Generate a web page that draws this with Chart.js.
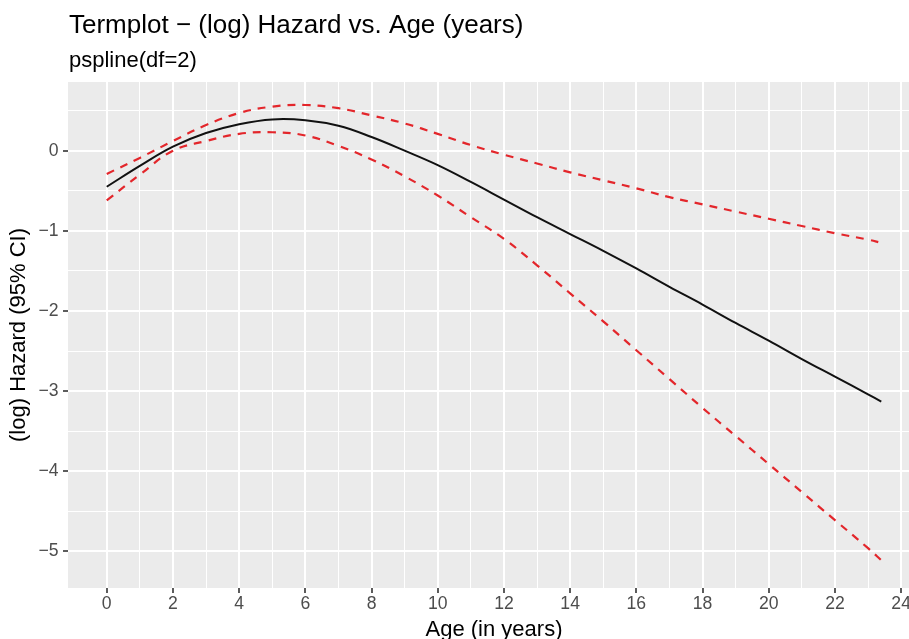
<!DOCTYPE html>
<html>
<head>
<meta charset="utf-8">
<title>Termplot - (log) Hazard vs. Age</title>
<script src="https://cdn.jsdelivr.net/npm/chart.js@4"></script>
<style>
    html, body { margin: 0; padding: 0; background: #ffffff; overflow: hidden; }
    #wrap { width: 940px; height: 650px; }
</style>
</head>
<body>
<div id="wrap"><canvas id="termPlot" width="940" height="650"></canvas></div>
<script>
// data
const ages  = [0, 1, 2, 3, 4, 5, 6, 7, 8, 9, 10, 11, 12, 13, 14, 15, 16, 17, 18, 19, 20, 21, 22, 23, 23.4];
const fit   = [-0.45, -0.19, 0.05, 0.22, 0.33, 0.39, 0.38, 0.31, 0.17, 0.00, -0.18, -0.39, -0.61, -0.83, -1.04, -1.25, -1.47, -1.70, -1.92, -2.15, -2.37, -2.60, -2.82, -3.04, -3.13];
const upper = [-0.29, -0.09, 0.12, 0.32, 0.47, 0.55, 0.57, 0.53, 0.44, 0.34, 0.21, 0.07, -0.05, -0.16, -0.27, -0.37, -0.47, -0.58, -0.67, -0.76, -0.85, -0.94, -1.03, -1.11, -1.15];
const lower = [-0.62, -0.30, 0.00, 0.12, 0.21, 0.23, 0.19, 0.06, -0.11, -0.32, -0.56, -0.83, -1.10, -1.43, -1.78, -2.13, -2.49, -2.85, -3.21, -3.56, -3.91, -4.26, -4.61, -4.96, -5.11];

const titleText    = "Termplot \u2212 (log) Hazard vs. Age (years)";
const subtitleText = "pspline(df=2)";
const xTitle = "Age (in years)";
const yTitle = "(log) Hazard (95% CI)";

// ggplot style range (5% expand)
const xMin = -1.17, xMax = 24.57;
const yMin = -5.457, yMax = 0.857;

const FONT = "'Liberation Sans', Arial, Helvetica, sans-serif";

function toPoints(ys) {
    return ages.map((a, i) => ({ x: a, y: ys[i] }));
}

// 회색 패널 배경
const panelBg = {
    id: 'panelBg',
    beforeDraw(chart) {
        const { ctx, chartArea: a } = chart;
        ctx.save();
        ctx.fillStyle = '#EBEBEB';
        ctx.fillRect(a.left, a.top, a.right - a.left, a.bottom - a.top);
        ctx.restore();
    }
};

// title + subtitle, left aligned to the panel
const ggTitles = {
    id: 'ggTitles',
    afterDraw(chart) {
        const { ctx, chartArea: a } = chart;
        ctx.save();
        ctx.fillStyle = '#000000';
        ctx.textAlign = 'left';
        ctx.textBaseline = 'alphabetic';
        ctx.font = '26px ' + FONT;
        ctx.fillText(titleText, a.left + 1, 33);
        ctx.font = '22px ' + FONT;
        ctx.fillText(subtitleText, a.left + 1, 67);
        ctx.restore();
    }
};

function isMajorX(v) { return Math.abs(v % 2) < 1e-6; }
function isMajorY(v) { return Math.abs(v - Math.round(v)) < 1e-6; }

const ctx = document.getElementById('termPlot').getContext('2d');
const chart = new Chart(ctx, {
    type: 'line',
    data: {
        datasets: [
            {
                label: 'fit',
                data: toPoints(fit),
                borderColor: '#111111',
                borderWidth: 2,
                pointRadius: 0,
                tension: 0.4,
                fill: false
            },
            {
                label: 'upper',
                data: toPoints(upper),
                borderColor: '#e3262b',
                borderWidth: 2.2,
                borderDash: [8, 7],
                pointRadius: 0,
                tension: 0.4,
                fill: false
            },
            {
                label: 'lower',
                data: toPoints(lower),
                borderColor: '#e3262b',
                borderWidth: 2.2,
                borderDash: [8, 7],
                pointRadius: 0,
                tension: 0.4,
                fill: false
            }
        ]
    },
    options: {
        responsive: false,
        animation: false,
        layout: { padding: { top: 82, right: 20, left: 0, bottom: 0 } },
        plugins: {
            legend: { display: false },
            tooltip: { enabled: false }
        },
        scales: {
            x: {
                type: 'linear',
                min: xMin,
                max: xMax,
                border: { display: false },
                afterFit(scale) { scale.height = 62; },
                grid: {
                    color: (c) => (c.tick && c.tick.value < 0) ? 'rgba(0,0,0,0)' : '#ffffff',
                    lineWidth: (c) => (c.tick && isMajorX(c.tick.value)) ? 2 : 1,
                    drawTicks: true,
                    tickLength: 5,
                    tickColor: (c) => (c.tick && isMajorX(c.tick.value) && c.tick.value >= 0) ? '#333333' : 'rgba(0,0,0,0)',
                    tickWidth: 1.6
                },
                ticks: {
                    stepSize: 1,
                    includeBounds: false,
                    autoSkip: false,
                    maxRotation: 0,
                    padding: 1,
                    color: '#4D4D4D',
                    font: { family: FONT, size: 17.6 },
                    callback: (v) => (isMajorX(v) && v >= 0) ? String(v) : ''
                },
                title: {
                    display: true,
                    text: xTitle,
                    color: '#000000',
                    font: { family: FONT, size: 22 },
                    padding: { top: 0, bottom: 7 }
                }
            },
            y: {
                type: 'linear',
                min: yMin,
                max: yMax,
                border: { display: false },
                afterFit(scale) { scale.width = 68; },
                grid: {
                    color: '#ffffff',
                    lineWidth: (c) => (c.tick && isMajorY(c.tick.value)) ? 2 : 1,
                    drawTicks: true,
                    tickLength: 5,
                    tickColor: (c) => (c.tick && isMajorY(c.tick.value)) ? '#333333' : 'rgba(0,0,0,0)',
                    tickWidth: 1.6
                },
                ticks: {
                    stepSize: 0.5,
                    includeBounds: false,
                    autoSkip: false,
                    padding: 4.5,
                    color: '#4D4D4D',
                    font: { family: FONT, size: 17.6 },
                    // ggplot uses the real minus sign
                    callback: (v) => isMajorY(v) ? String(Math.round(v)).replace('-', '\u2212') : ''
                },
                title: {
                    display: true,
                    text: yTitle,
                    color: '#000000',
                    font: { family: FONT, size: 22 },
                    padding: { top: 6, bottom: 0 }
                }
            }
        }
    },
    plugins: [panelBg, ggTitles]
});
console.log("chartArea", chart.chartArea);
</script>
</body>
</html>
